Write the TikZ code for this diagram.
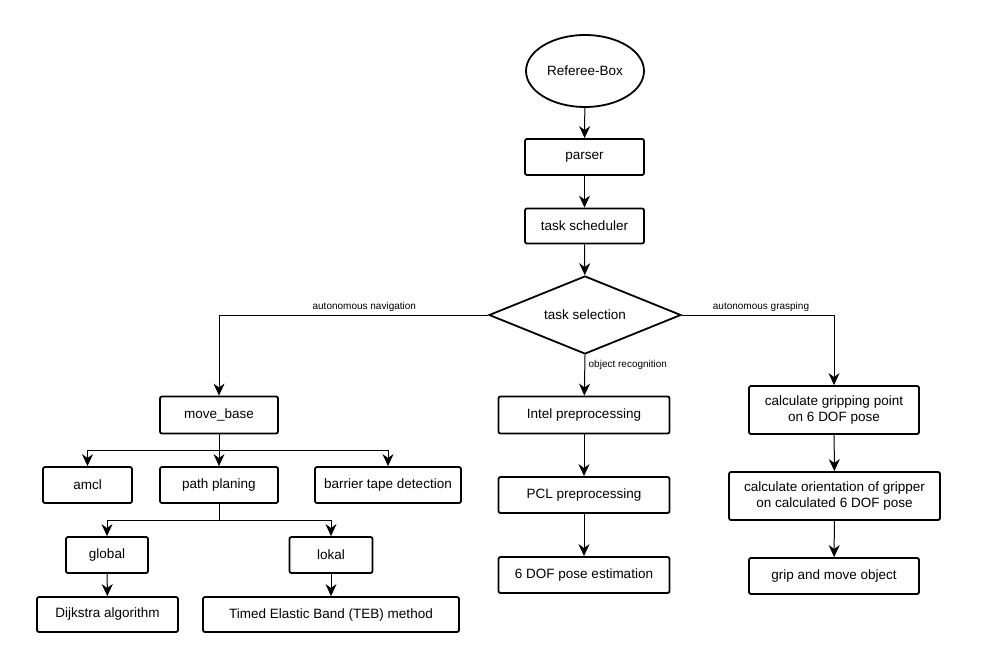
\documentclass[tikz,border=0pt]{standalone}
\usepackage{fontspec}
\setmainfont{Liberation Sans}
\usetikzlibrary{shapes.geometric,arrows.meta}

\tikzset{
  box/.style={draw, rectangle, rounded corners=2pt, line width=1.8pt, inner sep=2pt,
    align=center, font=\fontsize{13.5}{16}\selectfont},
  arr/.style={-{Stealth[length=12pt,width=11pt]}, line width=1pt},
  lbl/.style={font=\fontsize{10}{12}\selectfont}
}

\begin{document}
\begin{tikzpicture}[x=1pt,y=-1pt]
\useasboundingbox (0,0) rectangle (981,663);
%top
\node[box, ellipse, minimum width=118, minimum height=72] (ref) at (585,71) {Referee-Box};
\node[box, minimum width=119, minimum height=36] (parser) at (584.5,157) {parser};
\node[box, minimum width=119, minimum height=35] (sched) at (584.5,226) {task scheduler};
\node[box, diamond, rounded corners=0pt, aspect=2.46, minimum width=192, minimum height=78, inner sep=0pt] (sel) at (585,315) {task selection};
%navigation
\node[box, minimum width=118, minimum height=37] (mb) at (219,415) {move\_base};
\node[box, minimum width=89, minimum height=36] (amcl) at (87.5,485) {amcl};
\node[box, minimum width=118, minimum height=36] (pp) at (219,485) {path planing};
\node[box, minimum width=146, minimum height=36] (tape) at (388,485) {barrier tape detection};
\node[box, minimum width=82, minimum height=36] (glob) at (107,555) {global};
\node[box, minimum width=83, minimum height=36] (lok) at (331,555) {lokal};
\node[box, minimum width=141, minimum height=35] (dijk) at (107.5,614.5) {Dijkstra algorithm};
\node[box, minimum width=256, minimum height=35] (teb) at (331,614.5) {Timed Elastic Band (TEB) method};
%recognition
\node[box, minimum width=171, minimum height=37] (intel) at (584,415) {Intel preprocessing};
\node[box, minimum width=171, minimum height=36] (pcl) at (584,495) {PCL preprocessing};
\node[box, minimum width=171, minimum height=36] (pose) at (584,575) {6 DOF pose estimation};
%grasping
\node[box, minimum width=170, minimum height=48] (gpt) at (834,410) {calculate gripping point\\on 6 DOF pose};
\node[box, minimum width=211, minimum height=48] (ori) at (834.5,496) {calculate orientation of gripper\\on calculated 6 DOF pose};
\node[box, minimum width=170, minimum height=36] (grip) at (834,576) {grip and move object};
%connectors
\draw[arr] (ref) -- (parser);
\draw[arr] (parser) -- (sched);
\draw[arr] (sched) -- (sel);
\draw[arr] (sel.west) -| node[lbl, pos=0.23, above] {autonomous navigation} (mb);
\draw[arr] (sel.east) -| node[lbl, pos=0.26, above] {autonomous grasping} (gpt);
\draw[arr] (sel.south) -- node[lbl, pos=0.25, right] {object recognition} (intel);
\draw[arr] (mb.south) -- ++(0,16.5) -| (amcl);
\draw[arr] (mb.south) -- (pp);
\draw[arr] (mb.south) -- ++(0,16.5) -| (tape);
\draw[arr] (pp.south) -- ++(0,17) -| (glob);
\draw[arr] (pp.south) -- ++(0,17) -| (lok);
\draw[arr] (glob) -- (dijk);
\draw[arr] (lok) -- (teb);
\draw[arr] (intel) -- (pcl);
\draw[arr] (pcl) -- (pose);
\draw[arr] (gpt) -- (ori);
\draw[arr] (ori) -- (grip);
\end{tikzpicture}
\end{document}
